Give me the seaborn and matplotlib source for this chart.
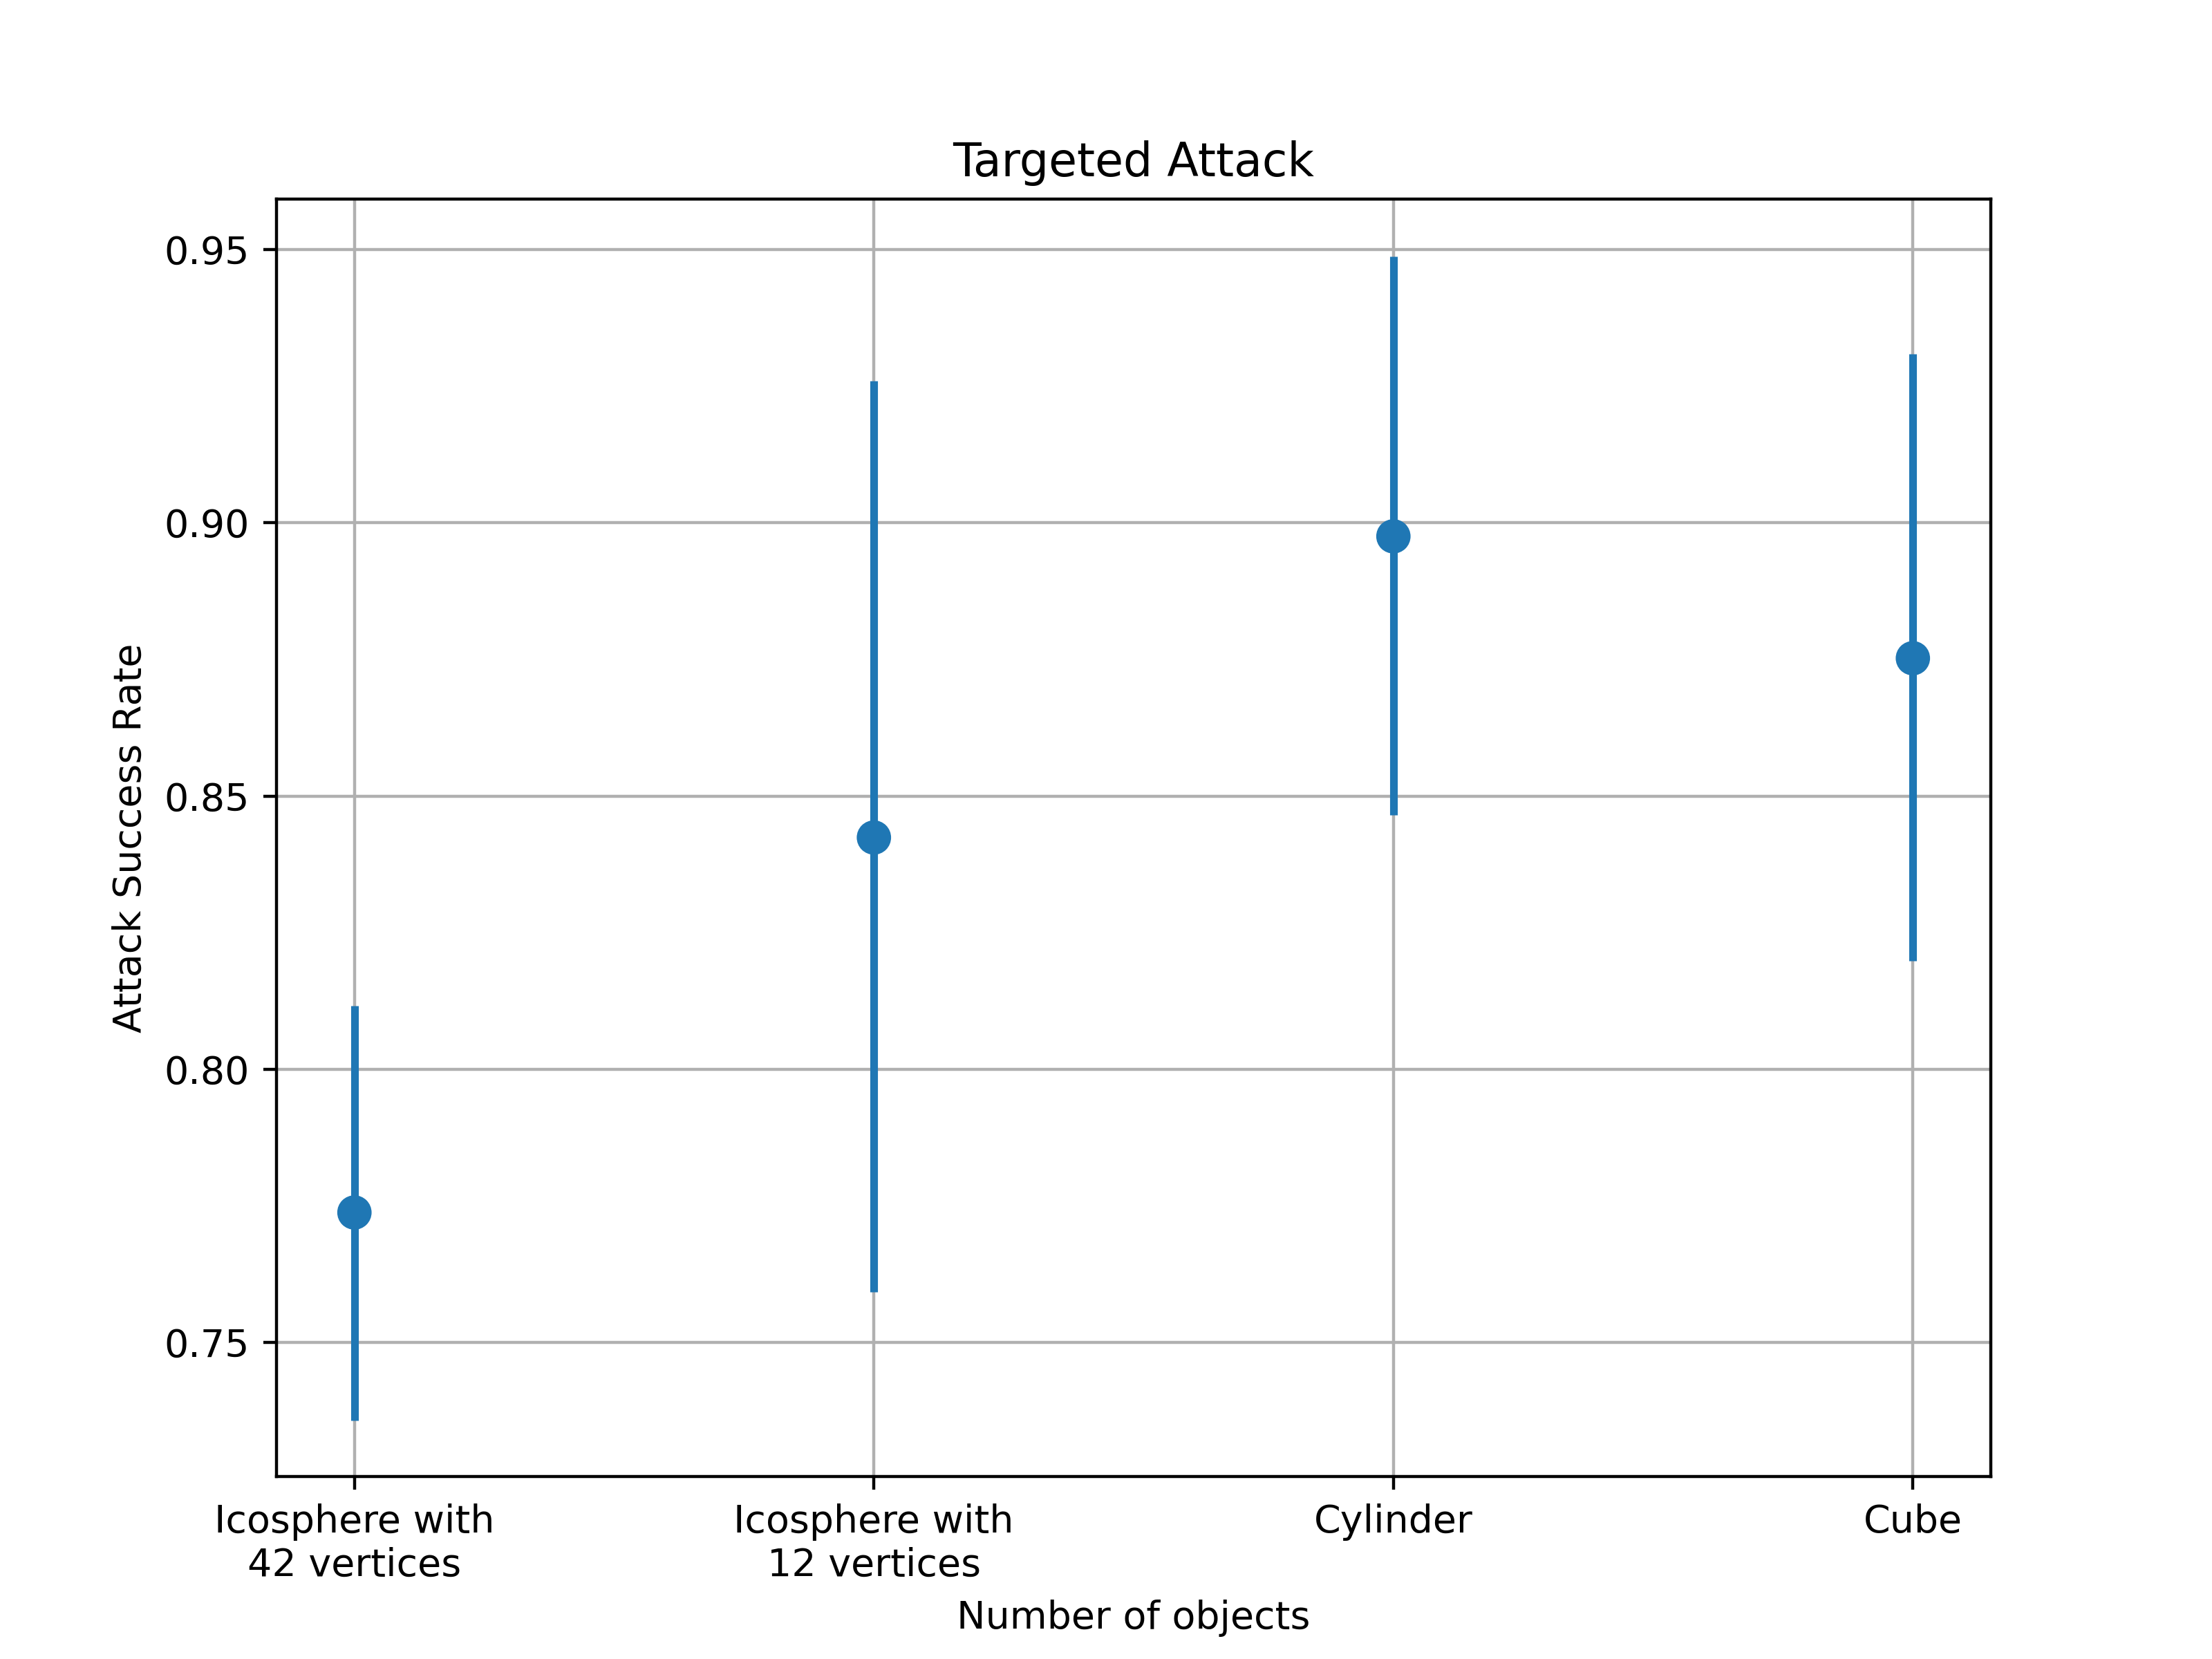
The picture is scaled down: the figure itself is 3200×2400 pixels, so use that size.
import matplotlib
matplotlib.use("Agg")
import matplotlib.pyplot as plt
import seaborn as sns
import pandas as pd

objects = ["Icosphere with\n42 vertices", "Icosphere with\n12 vertices", "Cylinder", "Cube"]
success_rate = [0.7738, 0.8424, 0.8975, 0.8752]
lower = [0.7358, 0.7593, 0.8465, 0.8199]
upper = [0.8116, 0.9259, 0.9487, 0.9309]

df = pd.DataFrame({"obj": objects, "rate": success_rate, "lo": lower, "hi": upper})

fig, ax = plt.subplots(figsize=(8, 6), dpi=400)
ax.vlines(df["obj"], df["lo"], df["hi"], color="#1f77b4", linewidth=2, zorder=2)
sns.scatterplot(data=df, x="obj", y="rate", ax=ax, color="#1f77b4", s=80,
                edgecolor="none", zorder=3)
ax.grid(True, color="#b0b0b0", linewidth=0.8)
ax.set_axisbelow(True)
ax.set_title("Targeted Attack")
ax.set_xlabel("Number of objects")
ax.set_ylabel("Attack Success Rate")
ax.set_ylim(0.7255, 0.9592)
ax.set_xlim(-0.15, 3.15)
ax.set_yticks([0.75, 0.80, 0.85, 0.90, 0.95])
fig.savefig("out.png")
